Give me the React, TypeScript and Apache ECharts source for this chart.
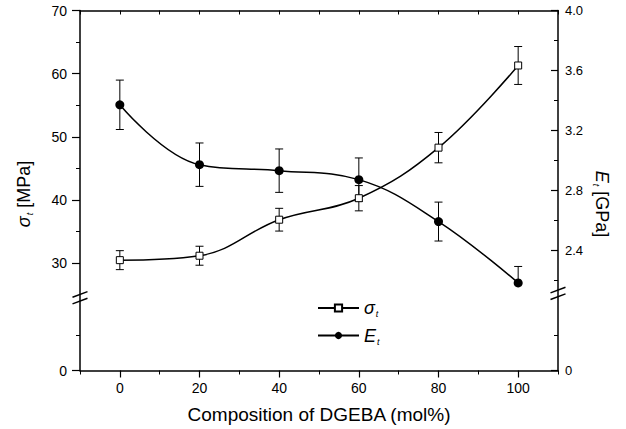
import React, { useEffect, useRef } from "react";
import * as echarts from "echarts";

// ---- data ----
const compositions = [0, 20, 40, 60, 80, 100];
const tensileStrength = [30.5, 31.2, 36.9, 40.3, 48.3, 61.3]; // MPa
const tensileStrengthErr = [1.5, 1.5, 1.8, 2.0, 2.4, 3.0];
const tensileModulus = [3.37, 2.97, 2.93, 2.87, 2.59, 2.18]; // GPa
const tensileModulusErrUp = [0.165, 0.145, 0.145, 0.145, 0.13, 0.11];
const tensileModulusErrDown = [0.165, 0.145, 0.145, 0.145, 0.13, 0];

const xTickLabels = [0, 20, 40, 60, 80, 100];
const xMinorTicks = [-10, 10, 30, 50, 70, 90, 110];
const leftTickLabels = [30, 40, 50, 60, 70];
const leftMinorTicks = [35, 45, 55, 65];
const rightTickLabels = [2.4, 2.8, 3.2, 3.6, 4.0];
const rightMinorTicks = [2.2, 2.6, 3.0, 3.4, 3.8];

// broken-axis geometry (axis units): where the "0" sits below the break
const leftZeroAt = 13.04;
const leftLowerMinor = 18.65;
const leftBreakAt = 24.55;
const rightZeroAt = 1.595;
const rightLowerMinor = 1.832;
const rightBreakAt = 2.11;

const FONT = "'Liberation Sans', Arial, Helvetica, sans-serif";

export default function App() {
  const ref = useRef<HTMLDivElement>(null);

  useEffect(() => {
    if (!ref.current) return;
    const chart = echarts.init(ref.current, null, { renderer: "svg" });

    const errorSeries = (
      name: string,
      yAxisIndex: number,
      vals: number[],
      up: number[],
      down: number[]
    ) => ({
      type: "custom",
      name,
      yAxisIndex,
      z: 1,
      silent: true,
      data: compositions.map((x, i) => [x, vals[i] - down[i], vals[i] + up[i]]),
      renderItem: (params: any, api: any) => {
        const x = api.value(0);
        const lo = api.coord([x, api.value(1)]);
        const hi = api.coord([x, api.value(2)]);
        const w = 4;
        const st = { stroke: "#000", lineWidth: 1 };
        return {
          type: "group",
          children: [
            { type: "line", shape: { x1: lo[0], y1: lo[1], x2: hi[0], y2: hi[1] }, style: st },
            { type: "line", shape: { x1: hi[0] - w, y1: hi[1], x2: hi[0] + w, y2: hi[1] }, style: st },
            { type: "line", shape: { x1: lo[0] - w, y1: lo[1], x2: lo[0] + w, y2: lo[1] }, style: st },
          ],
        };
      },
    });

    const richSub = {
      i: { fontStyle: "italic", fontSize: 18, fontFamily: FONT, color: "#000" },
      s: { fontStyle: "italic", fontSize: 9, fontFamily: FONT, color: "#000", padding: [12, 0, 0, 1] },
      n: { fontSize: 18, fontFamily: FONT, color: "#000" },
    };

    const axisLineStyle = { color: "#000", width: 1.5 };

    chart.setOption({
      animation: false,
      grid: { left: 80, right: 68, top: 10.5, bottom: 58.5 },
      xAxis: [
        {
          type: "value",
          position: "bottom",
          min: -10,
          max: 110,
          interval: 10,
          splitLine: { show: false },
          axisLine: { onZero: false, lineStyle: axisLineStyle },
          axisTick: { inside: false, length: 7, customValues: xTickLabels, lineStyle: { color: "#000", width: 1.2 } },
          axisLabel: {
            customValues: xTickLabels,
            color: "#000",
            fontSize: 14,
            fontFamily: FONT,
            margin: 10,
          },
          name: "Composition of DGEBA (mol%)",
          nameLocation: "middle",
          nameGap: 34,
          nameTextStyle: { color: "#000", fontSize: 19, fontFamily: FONT },
        },
        {
          type: "value",
          position: "bottom",
          min: -10,
          max: 110,
          interval: 10,
          splitLine: { show: false },
          axisLine: { show: false, onZero: false },
          axisTick: { inside: false, length: 4, customValues: xMinorTicks, lineStyle: { color: "#000", width: 1 } },
          axisLabel: { show: false },
        },
        {
          type: "value",
          position: "top",
          min: -10,
          max: 110,
          interval: 10,
          splitLine: { show: false },
          axisLine: { onZero: false, lineStyle: axisLineStyle },
          axisTick: { inside: true, length: 4, lineStyle: { color: "#000", width: 1 } },
          axisLabel: { show: false },
        },
      ],
      yAxis: [
        {
          type: "value",
          position: "left",
          min: leftZeroAt,
          max: 70,
          splitLine: { show: false },
          axisLine: { onZero: false, lineStyle: axisLineStyle },
          axisTick: {
            inside: false,
            length: 8,
            customValues: [leftZeroAt, ...leftTickLabels],
            lineStyle: { color: "#000", width: 1.2 },
          },
          axisLabel: {
            customValues: [leftZeroAt, ...leftTickLabels],
            formatter: (v: number) => (v < 20 ? "0" : String(Math.round(v))),
            color: "#000",
            fontSize: 14,
            fontFamily: FONT,
            margin: 13,
          },
        },
        {
          type: "value",
          position: "left",
          min: leftZeroAt,
          max: 70,
          splitLine: { show: false },
          axisLine: { show: false, onZero: false },
          axisTick: {
            inside: false,
            length: 4,
            customValues: [leftLowerMinor, ...leftMinorTicks],
            lineStyle: { color: "#000", width: 1 },
          },
          axisLabel: { show: false },
        },
        {
          type: "value",
          position: "right",
          min: rightZeroAt,
          max: 4.0,
          splitLine: { show: false },
          axisLine: { onZero: false, lineStyle: axisLineStyle },
          axisTick: {
            inside: true,
            length: 7,
            customValues: [rightZeroAt, ...rightTickLabels],
            lineStyle: { color: "#000", width: 1.2 },
          },
          axisLabel: {
            customValues: [rightZeroAt, ...rightTickLabels],
            formatter: (v: number) => (v < 2 ? "0" : v.toFixed(1)),
            color: "#000",
            fontSize: 13,
            fontFamily: FONT,
            margin: 7,
          },
        },
        {
          type: "value",
          position: "right",
          min: rightZeroAt,
          max: 4.0,
          splitLine: { show: false },
          axisLine: { show: false, onZero: false },
          axisTick: {
            inside: true,
            length: 4,
            customValues: [rightLowerMinor, ...rightMinorTicks],
            lineStyle: { color: "#000", width: 1 },
          },
          axisLabel: { show: false },
        },
      ],
      legend: {
        orient: "vertical",
        left: 312,
        top: 294,
        itemWidth: 41,
        itemHeight: 9,
        itemGap: 8,
        data: ["sigma", "E"],
        formatter: (n: string) => (n === "sigma" ? "{i|σ}{s|t}" : "{i|E}{s|t}"),
        textStyle: { rich: richSub, padding: [0, 0, 0, 0] },
      },
      series: [
        errorSeries("sigmaErr", 0, tensileStrength, tensileStrengthErr, tensileStrengthErr),
        errorSeries("EErr", 2, tensileModulus, tensileModulusErrUp, tensileModulusErrDown),
        {
          type: "line",
          name: "sigma",
          yAxisIndex: 0,
          smooth: 0.4,
          z: 3,
          data: compositions.map((x, i) => [x, tensileStrength[i]]),
          symbol: "rect",
          symbolSize: 7,
          lineStyle: { color: "#000", width: 1.5 },
          itemStyle: { color: "#fff", borderColor: "#000", borderWidth: 1 },
        },
        {
          type: "line",
          name: "E",
          yAxisIndex: 2,
          smooth: 0.4,
          z: 3,
          data: compositions.map((x, i) => [x, tensileModulus[i]]),
          symbol: "circle",
          symbolSize: 9,
          lineStyle: { color: "#000", width: 1.5 },
          itemStyle: { color: "#000" },
        },
      ],
    });

    // broken-axis marks and rotated axis titles
    const xl = chart.convertToPixel({ xAxisIndex: 0 }, -10) as number;
    const xr = chart.convertToPixel({ xAxisIndex: 0 }, 110) as number;
    const yl = chart.convertToPixel({ yAxisIndex: 0 }, leftBreakAt) as number;
    const yr = chart.convertToPixel({ yAxisIndex: 2 }, rightBreakAt) as number;
    const breakMark = (cx: number, cy: number) => {
      const dx = 7.5;
      const dy = 2.8;
      const gap = 3.3;
      return {
        type: "group",
        z: 10,
        children: [
          {
            type: "polygon",
            shape: {
              points: [
                [cx - dx, cy + dy - gap],
                [cx + dx, cy - dy - gap],
                [cx + dx, cy - dy + gap],
                [cx - dx, cy + dy + gap],
              ],
            },
            style: { fill: "#fff" },
          },
          {
            type: "line",
            shape: { x1: cx - dx, y1: cy + dy - gap, x2: cx + dx, y2: cy - dy - gap },
            style: { stroke: "#000", lineWidth: 1.5 },
          },
          {
            type: "line",
            shape: { x1: cx - dx, y1: cy + dy + gap, x2: cx + dx, y2: cy - dy + gap },
            style: { stroke: "#000", lineWidth: 1.5 },
          },
        ],
      };
    };

    chart.setOption({
      graphic: [
        breakMark(xl, yl),
        breakMark(xr, yr),
        {
          type: "text",
          x: 24,
          y: 194,
          rotation: Math.PI / 2,
          style: {
            text: "{i|σ}{s|t}{n| [MPa]}",
            rich: richSub,
            align: "center",
            verticalAlign: "middle",
          },
        },
        {
          type: "text",
          x: 602,
          y: 204,
          rotation: -Math.PI / 2,
          style: {
            text: "{i|E}{s|t}{n| [GPa]}",
            rich: richSub,
            align: "center",
            verticalAlign: "middle",
          },
        },
      ],
    });

    return () => chart.dispose();
  }, []);

  return (
    <div
      ref={ref}
      style={{ position: "fixed", left: 0, top: 0, width: 626, height: 429, background: "#fff" }}
    />
  );
}
